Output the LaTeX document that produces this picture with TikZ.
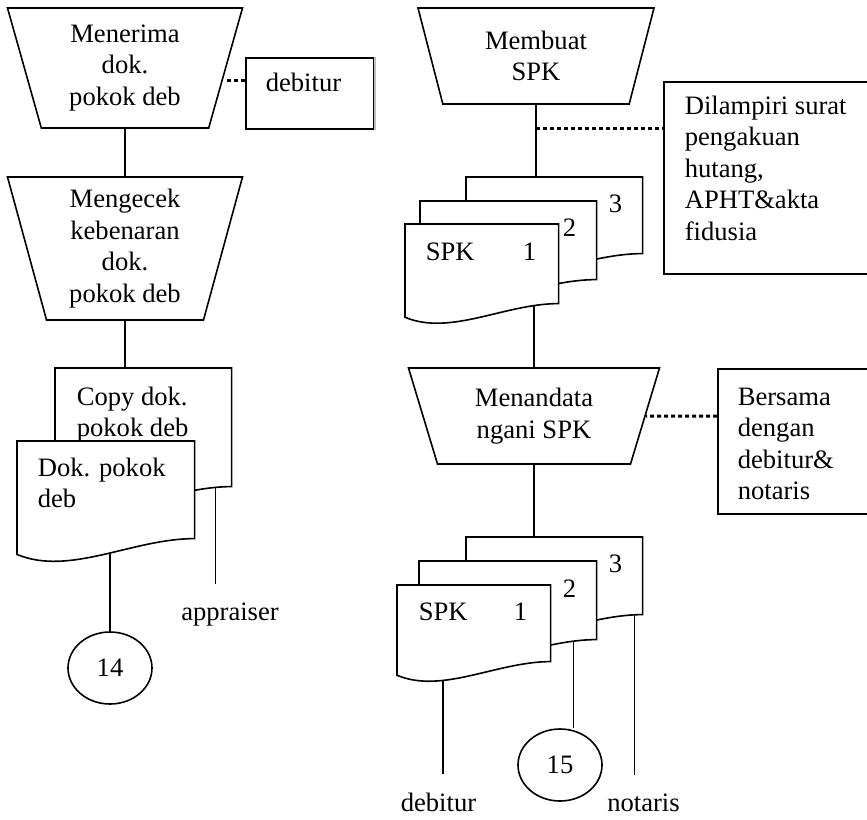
\documentclass[tikz,border=0pt]{standalone}
\usepackage{fontspec}
\setmainfont{Liberation Serif}
\usetikzlibrary{shapes.geometric}
\usetikzlibrary{positioning}

% lembar dokumen dengan tepi bawah bergelombang
\newcommand{\dokumen}[2]{%
  \filldraw[fill=white] (#1.north west) -- (#1.north east) -- (#1.south east)
    .. controls +(-0.354*#2,0) and +(0.3*#2,0.125*#2) .. ([shift={(0,0.09*#2)}]#1.south west) -- cycle;}

\begin{document}
\begin{tikzpicture}[x=1pt, y=-1pt, line width=1.6pt,
    every node/.style={font=\fontsize{26.6}{31.5}\selectfont},
    proses/.style={draw, trapezium, shape border rotate=180, trapezium stretches body,
      inner sep=0pt, align=center},
    kotak/.style={draw, rectangle, inner sep=0pt, anchor=north west},
    dok/.style={inner sep=0pt, anchor=north west},
    teks/.style={inner sep=0pt, anchor=north west, align=left},
    nomor/.style={inner sep=0pt, anchor=base},
    lingkar/.style={draw, ellipse, inner sep=0pt, minimum width=84, minimum height=72},
    ket/.style={inner sep=0pt, anchor=base},
    titik/.style={line width=3pt, dash pattern=on 4pt off 3pt},
    garis/.style={shorten >=18pt}]
      \clip (0,0) rectangle (867,819);

      % Kolom kiri
      \node[proses, minimum width=235, minimum height=120, trapezium angle=68.6] (terima) at (125,68) {Menerima\\dok.\\pokok deb};
      \node[kotak, minimum width=128, minimum height=71] (deb) at (245,57) {};
      \node[teks] (debtxt) at ([shift={(20,15)}]deb.north west) {debitur};
      \node[proses, minimum width=235, minimum height=143, trapezium angle=71.8] (cek) at (125,248.5) {Mengecek\\kebenaran\\dok.\\pokok deb};
      \node[dok, minimum width=175, minimum height=117] (copy) at (55,368) {};
      \node[dok, minimum width=176, minimum height=96] (pokok) at (17,441) {};
      \node[lingkar] (c14) at (110,668) {14};
      \node[ket] (appr) at (230,620) {appraiser};

      % Kolom kanan
      \node[proses, minimum width=236, minimum height=96, trapezium angle=63.7] (buat) at (536,56) {Membuat\\SPK};
      \node[kotak, minimum width=217, minimum height=192] (lampir) at (663,81) {};
      \node[teks] (lampirtxt) at ([shift={(21,14)}]lampir.north west) {Dilampiri surat\\pengakuan\\hutang,\\APHT\&akta\\fidusia};
      \node[dok, minimum width=175, minimum height=75] (spkc) at (466,177) {};
      \node[dok, minimum width=175, minimum height=77] (spkb) at (420,201) {};
      \node[dok, minimum width=152, minimum height=78] (spka) at (405,224) {};
      \node[proses, minimum width=251, minimum height=96, trapezium angle=62.5] (tanda) at (534,416) {Menandata\\ngani SPK};
      \node[kotak, minimum width=163, minimum height=145] (bersama) at (717,368) {};
      \node[teks] (bersamatxt) at ([shift={(20,19)}]bersama.north west) {Bersama\\dengan\\debitur\&\\notaris};
      \node[dok, minimum width=175, minimum height=76] (salc) at (466,537) {};
      \node[dok, minimum width=176, minimum height=77] (salb) at (419,561) {};
      \node[dok, minimum width=152, minimum height=75] (sala) at (397,585) {};
      \node[lingkar] (c15) at (560,765) {15};
      \node[ket] (kdeb) at (438.5,811) {debitur};
      \node[ket] (knot) at (643.5,811) {notaris};

      % Garis kiri
      \draw (terima) -- (cek);
      \draw[titik] ([yshift=12.5pt]deb.west) -- ([yshift=12.5pt]deb.west -| terima.east);
      \draw[line width=2pt, black!25] (deb.north east) -- (deb.south east);
      \draw (cek) -- (cek |- copy.north);
      \draw (c14.north |- pokok.south) -- (c14);
      \draw[garis] ([xshift=-16pt]copy.south east) -- ([xshift=-16pt]copy.south east |- appr.north);

      % Garis kanan
      \draw (buat) -- coordinate[pos=0.33] (m1) (buat |- spkc.north);
      \draw[titik] (m1) -- (m1 -| lampir.west);
      \draw (tanda |- spka.south) -- (tanda);
      \draw[titik] (bersama.west |- tanda) -- (tanda);
      \draw (tanda) -- (tanda |- salc.north);
      \draw[garis] ([xshift=46pt]sala.south west) -- ([xshift=46pt]sala.south west |- kdeb.north);
      \draw ([xshift=-23pt]salb.south east) -- ([xshift=-23pt]salb.south east |- c15.north);
      \draw[garis] ([xshift=-8pt]salc.south east) -- ([xshift=-8pt]salc.south east |- knot.north);

      % Dokumen
      \dokumen{copy}{175}
      \node[teks] (copytxt) at ([shift={(21,18)}]copy.north west) {Copy dok.\\pokok deb};
      \dokumen{pokok}{176}
      \node[teks] (pokoktxt) at ([shift={(20,16)}]pokok.north west) {Dok. pokok\\deb};
      \dokumen{spkc}{175}
      \dokumen{spkb}{175}
      \dokumen{spka}{152}
      \node[nomor, anchor=base west] (spkatxt) at ([shift={(20,36)}]spka.north west) {SPK};
      \node[nomor] (n1a) at ([shift={(-29,36)}]spka.north east) {1};
      \node[nomor] (n2a) at ([shift={(-27,35)}]spkb.north east) {2};
      \node[nomor] (n3a) at ([shift={(-27,35)}]spkc.north east) {3};
      \dokumen{salc}{175}
      \dokumen{salb}{176}
      \dokumen{sala}{152}
      \node[nomor, anchor=base west] (salatxt) at ([shift={(21,35)}]sala.north west) {SPK};
      \node[nomor] (n1b) at ([shift={(-30,35)}]sala.north east) {1};
      \node[nomor] (n2b) at ([shift={(-27,36)}]salb.north east) {2};
      \node[nomor] (n3b) at ([shift={(-27,35)}]salc.north east) {3};
\end{tikzpicture}
\end{document}
